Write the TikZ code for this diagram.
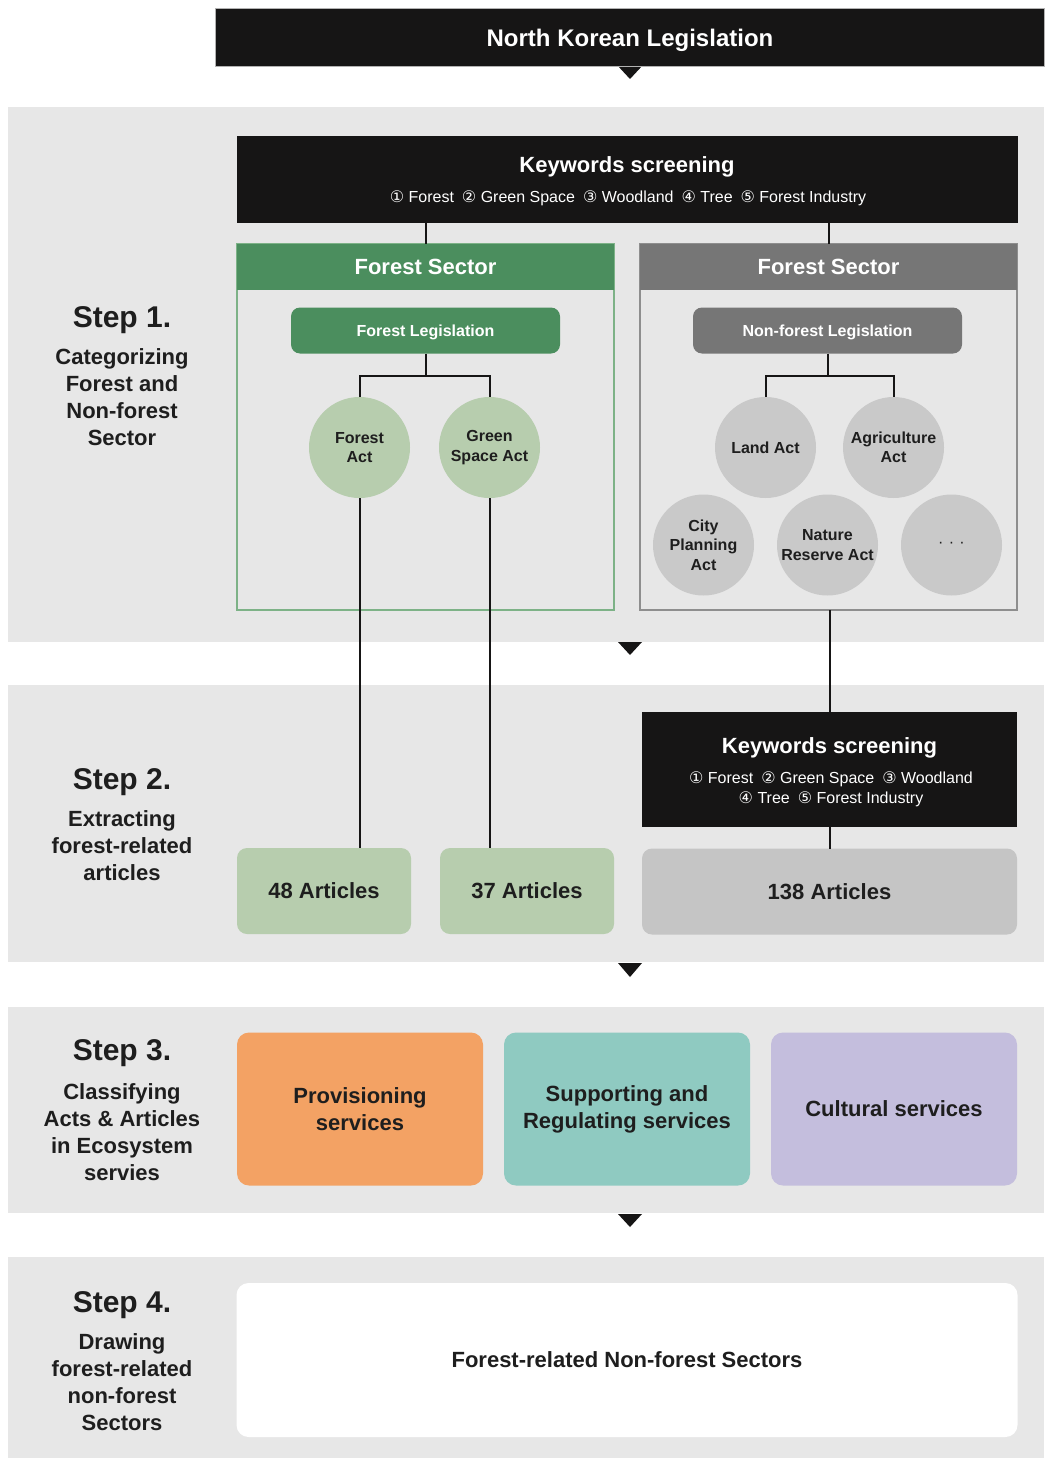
\documentclass[tikz,border=0pt]{standalone}
\usepackage{fontspec}
\setmainfont{Liberation Sans}
\newfontfamily\circfont{DejaVu Sans}
\usetikzlibrary{calc}

\definecolor{bandgray}{HTML}{E7E7E7}
\definecolor{ink}{HTML}{161515}
\definecolor{fgreen}{HTML}{4B8E5E}
\definecolor{fgreenline}{HTML}{7DB287}
\definecolor{lgreen}{HTML}{B7CDAE}
\definecolor{ghead}{HTML}{767676}
\definecolor{gline}{HTML}{8E8E8E}
\definecolor{lgray}{HTML}{C9C9C9}
\definecolor{artgray}{HTML}{C5C5C5}
\definecolor{provorange}{HTML}{F3A264}
\definecolor{suppteal}{HTML}{8FCAC1}
\definecolor{cultlav}{HTML}{C4BEDD}
\definecolor{txt}{HTML}{1E1E1E}

\newcommand{\fsz}[2]{\fontsize{#1}{#2}\selectfont}
\newcommand{\cnum}[1]{{\circfont #1}}

\begin{document}
\begin{tikzpicture}[x=1pt,y=-1pt,
  every node/.style={inner sep=0pt,outer sep=0pt,text=txt},
  bandbg/.style={fill=bandgray},
  pointer/.style={fill=ink},
  conn/.style={draw=ink,line width=2pt},
  darkbox/.style={fill=ink,text=white},
  kwtitle/.style={text=white,font=\fsz{22}{26}\bfseries,anchor=base},
  kwlist/.style={text=white,font=\fsz{16}{20},anchor=base,align=center},
  sectframe/.style={line width=1.5pt,minimum width=377pt,minimum height=366pt},
  secthead/.style={text=white,font=\fsz{22}{26}\bfseries,minimum width=377pt,minimum height=46pt},
  legis/.style={text height=11.5pt,text depth=0pt,rounded corners=9pt,text=white,font=\fsz{16}{20}\bfseries,minimum width=269pt,minimum height=46pt},
  actcircle/.style={circle,minimum size=101pt,font=\fsz{16}{19.5}\bfseries,align=center},
  artbox/.style={rounded corners=10pt,font=\fsz{22}{26}\bfseries,minimum height=86pt},
  esbox/.style={rounded corners=12pt,font=\fsz{22}{27}\bfseries,align=center,minimum width=246pt,minimum height=153pt},
  steptitle/.style={font=\fsz{30}{34}\bfseries,anchor=base},
  stepbody/.style={font=\fsz{22}{27}\bfseries,align=center,anchor=base},
]
\useasboundingbox (0,0) rectangle (1044,1458);
\fill[white] (0,0) rectangle (1044,1458);

% background bands of the four steps
\fill[bandbg] (8,107) rectangle (1044,642);
\fill[bandbg] (8,685) rectangle (1044,962);
\fill[bandbg] (8,1007) rectangle (1044,1213);
\fill[bandbg] (8,1257) rectangle (1044,1458);

% downward pointers between stages
\fill[pointer] (617,65) -- (643,65) -- (630,79) -- cycle;
\fill[pointer] (618,642) -- (642,642) -- (630,655) -- cycle;
\fill[pointer] (618,963) -- (642,963) -- (630,977) -- cycle;
\fill[pointer] (618,1214) -- (642,1214) -- (630,1227) -- cycle;

% title bar
\node[darkbox,draw=gray!60,line width=0.8pt,minimum width=829pt,minimum height=58pt] (top) at (629.5,37) {};
\node[text=white,font=\fsz{24}{28}\bfseries,anchor=base] (toptext) at (630,47) {North Korean Legislation};

% ---------- Step 1 ----------
\node[steptitle] (s1) at (122,327) {Step 1.};
% multi-line labels are placed by the baseline of their last line
\node[stepbody] (s1b) at (122,445) {Categorizing\\Forest and\\Non-forest\\Sector};

\node[darkbox,minimum width=781pt,minimum height=87pt] (kw1) at (627,179.5) {};
\node[kwtitle] (kw1t) at (627,173) {Keywords screening};
\node[kwlist] (kw1s) at (628,203)
  {\cnum{①} Forest\enspace\cnum{②} Green Space\enspace\cnum{③} Woodland\enspace\cnum{④} Tree\enspace\cnum{⑤} Forest Industry};

% forest sector
\node[sectframe,draw=fgreenline] (fframe) at (425.5,427) {};
\node[secthead,fill=fgreen] (fhead) at (425.5,267) {Forest Sector};
\node[legis,fill=fgreen] (flaw) at (425.5,330.5) {Forest Legislation};
\node[actcircle,fill=lgreen] (fact) at (359.5,447.5) {Forest\\Act};
\node[actcircle,fill=lgreen] (gsact) at (489.5,447.5) {Green\\Space Act};

% non-forest sector
\node[sectframe,draw=gline] (nframe) at (828.5,427) {};
\node[secthead,fill=ghead] (nhead) at (828.5,267) {Forest Sector};
\node[legis,fill=ghead] (nlaw) at (827.5,330.5) {Non-forest Legislation};
\node[actcircle,fill=lgray] (land) at (765.5,447.5) {Land Act};
\node[actcircle,fill=lgray] (agri) at (893.5,447.5) {Agriculture\\Act};
\node[actcircle,fill=lgray] (city) at (703.5,545) {City\\Planning\\Act};
\node[actcircle,fill=lgray] (nature) at (827.5,545) {Nature\\Reserve Act};
\node[actcircle,fill=lgray,font=\fsz{16}{19.5}] (more) at (951.5,545) {·\,\,·\,\,·};

\coordinate (fjoin) at (425.5,376);
\coordinate (njoin) at (828,376);

\draw[conn] (kw1.south -| fhead.north) -- (fhead.north);
\draw[conn] (kw1.south -| nhead.north) -- (nhead.north);
\draw[conn] (flaw.south) -- (fjoin);
\draw[conn] (fact.north) |- (fjoin) -| (gsact.north);
\draw[conn] (nlaw.south -| njoin) -- (njoin);
\draw[conn] (land.north) |- (njoin) -| (agri.north);

% ---------- Step 2 ----------
\node[steptitle] (s2) at (122,789) {Step 2.};
\node[stepbody] (s2b) at (122,880) {Extracting\\forest-related\\articles};

\node[darkbox,minimum width=375pt,minimum height=115pt] (kw2) at (829.5,769.5) {};
\node[kwtitle] (kw2t) at (829.5,753) {Keywords screening};
\node[kwlist] (kw2s) at (831,803)
  {\cnum{①} Forest\enspace\cnum{②} Green Space\enspace\cnum{③} Woodland\\\cnum{④} Tree\enspace\cnum{⑤} Forest Industry};

\node[artbox,fill=lgreen,minimum width=174pt] (a48) at (324,891) {48 Articles};
\node[artbox,fill=lgreen,minimum width=174pt] (a37) at (527,891) {37 Articles};
\node[artbox,fill=artgray,minimum width=375pt] (a138) at (829.5,891.5) {138 Articles};

\draw[conn] (fact.south) -- (fact.south |- a48.north);
\draw[conn] (gsact.south) -- (gsact.south |- a37.north);
\draw[conn] (nframe.south -| kw2.north) -- (kw2.north);
\draw[conn] (kw2.south) -- (a138.north);

% ---------- Step 3 ----------
\node[steptitle] (s3) at (122,1060) {Step 3.};
\node[stepbody] (s3b) at (122,1180) {Classifying\\Acts \& Articles\\in Ecosystem\\servies};

\node[esbox,fill=provorange] (prov) at (360,1109) {Provisioning\\services};
\node[esbox,fill=suppteal] (supp) at (627,1109) {Supporting and\\Regulating services};
\node[esbox,fill=cultlav] (cult) at (894,1109) {Cultural services};

% ---------- Step 4 ----------
\node[steptitle] (s4) at (122,1312) {Step 4.};
\node[stepbody] (s4b) at (122,1430) {Drawing\\forest-related\\non-forest\\Sectors};

\node[fill=white,rounded corners=12pt,minimum width=781pt,minimum height=154pt,
      font=\fsz{22}{26}\bfseries] (result) at (627,1360) {Forest-related Non-forest Sectors};

\end{tikzpicture}
\end{document}
